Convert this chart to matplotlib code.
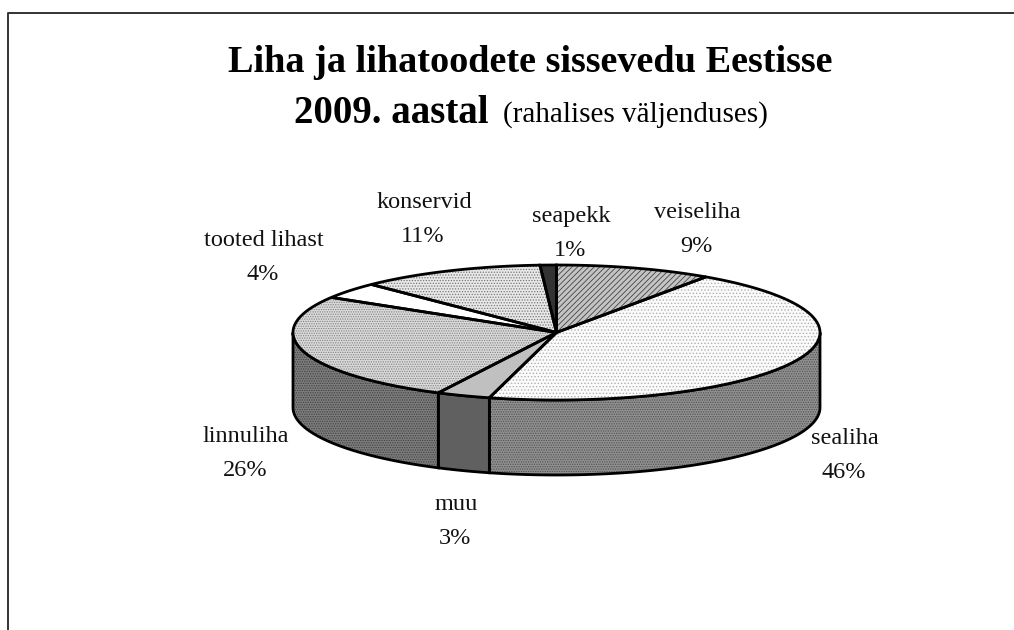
import numpy as np
import matplotlib
matplotlib.use("Agg")
import matplotlib.pyplot as plt

plt.rcParams['font.family'] = ['Liberation Serif', 'DejaVu Serif']
plt.rcParams['hatch.linewidth'] = 0.6

names = ['veiseliha', 'sealiha', 'muu', 'linnuliha', 'tooted lihast', 'konservid', 'seapekk']
shares = [9.6, 44.5, 3.3, 26.3, 3.9, 11.4, 1.0]
pct_text = ['9%', '46%', '3%', '26%', '4%', '11%', '1%']

top_face = ['#c4c4c4', '#fbfbfb', '#c0c0c0', '#dadada', '#ffffff', '#e8e8e8', '#333333']
top_hatch = ['//////', '.....', None, '.......', None, '......', None]
top_hatch_col = ['#444444', '#b0b0b0', 'k', '#808080', 'k', '#777777', 'k']
side_face = ['#808080', '#909090', '#606060', '#7c7c7c', '#ffffff', '#cccccc', '#333333']
side_hatch = [None, '.......', None, '.......', None, None, None]
side_hatch_col = ['k', '#505050', 'k', '#404040', 'k', 'k', 'k']

label_x = [697, 845, 456, 246, 264, 424, 571]
name_base = [218, 444, 510, 442, 246, 208, 222]

cx, cy, rx, ry, depth = 556.5, 332.5, 263.5, 67.5, 75

fig = plt.figure(figsize=(10.14, 6.3), dpi=100)
ax = fig.add_axes([0, 0, 1, 1])
ax.set_xlim(0, 1014)
ax.set_ylim(630, 0)
ax.axis('off')

# frame, only left and top show
ax.plot([8, 8, 1014], [630, 13, 13], color='#333333', lw=1.4)

edges = np.cumsum([0] + shares) / sum(shares) * 2 * np.pi


def rim(a, b):
    t = np.linspace(a, b, 200)
    return cx + rx * np.sin(t), cy - ry * np.cos(t)


# walls first, only the front half shows
for i in range(len(shares)):
    a = max(edges[i], np.pi / 2)
    b = min(edges[i + 1], 3 * np.pi / 2)
    if b <= a:
        continue
    x, y = rim(a, b)
    px, py = np.r_[x, x[::-1]], np.r_[y, y[::-1] + depth]
    ax.fill(px, py, facecolor=side_face[i], edgecolor='none', zorder=2)
    if side_hatch[i]:
        ax.fill(px, py, facecolor='none', edgecolor=side_hatch_col[i], lw=0,
                hatch=side_hatch[i], zorder=2.1)
    ax.fill(px, py, facecolor='none', edgecolor='k', lw=2, zorder=2.2)

for i in range(len(shares)):
    x, y = rim(edges[i], edges[i + 1])
    px, py = np.r_[cx, x], np.r_[cy, y]
    ax.fill(px, py, facecolor=top_face[i], edgecolor='none', zorder=3)
    if top_hatch[i]:
        ax.fill(px, py, facecolor='none', edgecolor=top_hatch_col[i], lw=0,
                hatch=top_hatch[i], zorder=3.1)
    ax.fill(px, py, facecolor='none', edgecolor='k', lw=2, zorder=3.2)

for i in range(len(names)):
    ax.text(label_x[i], name_base[i], names[i], ha='center', va='baseline', fontsize=17.5, color='#111111')
    ax.text(label_x[i] - 1, name_base[i] + 34, pct_text[i], ha='center', va='baseline', fontsize=17.5, color='#111111')

ax.text(530, 72, 'Liha ja lihatoodete sissevedu Eestisse', ha='center', va='baseline',
        fontsize=27.5, fontweight='bold', color='k')
ax.text(294, 123, '2009. aastal', ha='left', va='baseline', fontsize=28, fontweight='bold', color='k')
ax.text(503, 122, '(rahalises väljenduses)', ha='left', va='baseline', fontsize=21, color='k')

plt.savefig('out.png', dpi=100)
